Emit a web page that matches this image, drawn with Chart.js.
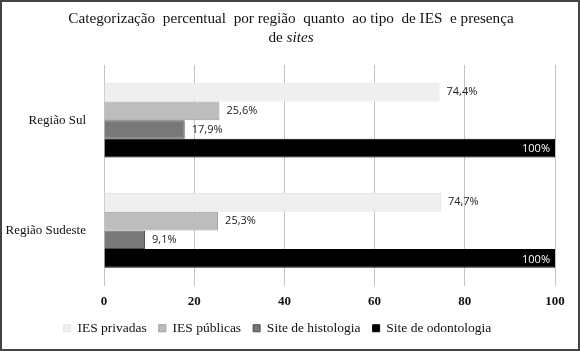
<!DOCTYPE html>
<html>
<head>
<meta charset="utf-8">
<script src="https://cdn.jsdelivr.net/npm/chart.js@4.4.1/dist/chart.umd.min.js"></script>
<style>
  body { margin: 0; background: #fff; }
  #wrap { width: 580px; height: 351px; }
</style>
</head>
<body>
<div id="wrap"><canvas id="myChart" width="580" height="351"></canvas></div>
<script>
// Dados
const regioes = ['Região Sul', 'Região Sudeste'];
const iesPrivadas = [74.4, 74.7];
const iesPublicas = [25.6, 25.3];
const siteHistologia = [17.9, 9.1];
const siteOdontologia = [100, 100];
const xTicks = [0, 20, 40, 60, 80, 100];

const serif = '"Liberation Serif", "DejaVu Serif", serif';

// título com "sites" em itálico + moldura
const tituloPlugin = {
  id: 'titulo',
  afterDraw(chart) {
    const ctx = chart.ctx;
    ctx.save();
    ctx.fillStyle = '#111';
    ctx.textBaseline = 'middle';
    ctx.font = '15.2px ' + serif;
    ctx.textAlign = 'center';
    ctx.fillText('Categorização  percentual  por região  quanto  ao tipo  de IES  e presença', 291, 19);
    const a = 'de ';
    const wa = ctx.measureText(a).width;
    ctx.font = 'italic 15.2px ' + serif;
    const wb = ctx.measureText('sites').width;
    const x0 = 291 - (wa + wb) / 2;
    ctx.textAlign = 'left';
    ctx.font = '15.2px ' + serif;
    ctx.fillText(a, x0, 38);
    ctx.font = 'italic 15.2px ' + serif;
    ctx.fillText('sites', x0 + wa, 38);
    ctx.strokeStyle = '#444';
    ctx.lineWidth = 2;
    ctx.strokeRect(1, 1, 578, 349);
    ctx.restore();
  }
};

// rótulos de valor nas barras
const rotulosPlugin = {
  id: 'rotulos',
  afterDatasetsDraw(chart) {
    const ctx = chart.ctx;
    ctx.save();
    ctx.font = '11px "Open Sans", "DejaVu Sans", sans-serif';
    ctx.textBaseline = 'middle';
    chart.data.datasets.forEach((ds, i) => {
      chart.getDatasetMeta(i).data.forEach((bar, j) => {
        const v = ds.data[j];
        const txt = (v === 100 ? '100' : v.toFixed(1).replace('.', ',')) + '%';
        if (v === 100) {
          ctx.fillStyle = '#fff';
          ctx.textAlign = 'right';
          ctx.fillText(txt, bar.x - 5, bar.y + 1);
        } else {
          ctx.fillStyle = '#222';
          ctx.textAlign = 'left';
          ctx.fillText(txt, bar.x + 7, bar.y);
        }
      });
    });
    ctx.restore();
  }
};

const ctx = document.getElementById('myChart');
new Chart(ctx, {
  type: 'bar',
  data: {
    labels: regioes,
    datasets: [
      { label: 'IES privadas', data: iesPrivadas, backgroundColor: '#efefef', borderColor: '#e4e4e4', borderWidth: 1 },
      { label: 'IES públicas', data: iesPublicas, backgroundColor: '#bdbdbd', borderColor: '#9a9a9a', borderWidth: 1 },
      { label: 'Site de histologia', data: siteHistologia, backgroundColor: '#787878', borderColor: '#4a4a4a', borderWidth: 1 },
      { label: 'Site de odontologia', data: siteOdontologia, backgroundColor: '#000', borderColor: '#000', borderWidth: 1 }
    ]
  },
  options: {
    indexAxis: 'y',
    responsive: false,
    animation: false,
    layout: { padding: { top: 65, right: 25, bottom: 6, left: 0 } },
    datasets: { bar: { categoryPercentage: 0.68, barPercentage: 1 } },
    scales: {
      x: {
        min: 0, max: 100,
        afterBuildTicks: s => { s.ticks = xTicks.map(v => ({ value: v })); },
        grid: { color: '#c4c4c4', drawTicks: false },
        border: { display: false },
        ticks: { color: '#111', padding: 8, font: { family: serif, size: 13, weight: 'bold' } },
        afterFit: s => { s.height = 24; }
      },
      y: {
        grid: { display: false },
        border: { display: false },
        ticks: { color: '#111', padding: 10, font: { family: serif, size: 13 } },
        afterFit: s => { s.width = 104; }
      }
    },
    plugins: {
      legend: {
        position: 'bottom',
        labels: { color: '#111', boxWidth: 7, boxHeight: 7, padding: 12, font: { family: serif, size: 13.5 } }
      },
      tooltip: { enabled: false }
    }
  },
  plugins: [tituloPlugin, rotulosPlugin]
});
</script>
</body>
</html>
